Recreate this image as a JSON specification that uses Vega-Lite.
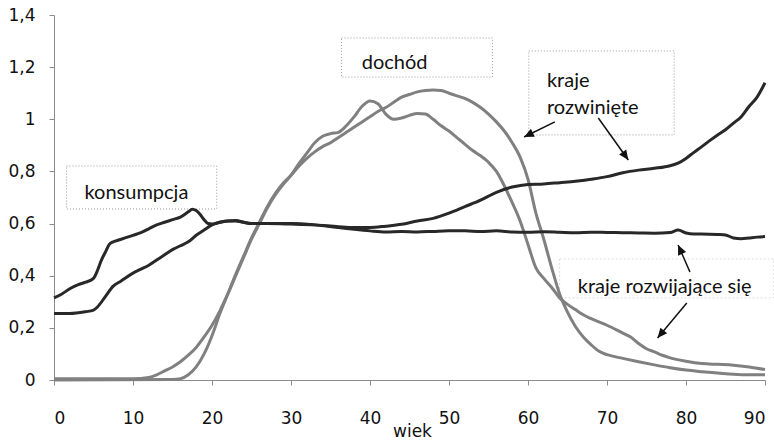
{
  "$schema": "https://vega.github.io/schema/vega-lite/v6.json",
  "autosize": "none",
  "width": 711,
  "height": 365,
  "padding": {"left": 54, "top": 15, "right": 9, "bottom": 62},
  "background": "white",
  "config": {
    "locale": {"number": {"decimal": ",", "thousands": " ", "grouping": [3], "currency": ["", " zł"]}},
    "view": {"stroke": null},
    "axis": {"grid": false, "domainColor": "#8c8c8c", "tickColor": "#8c8c8c", "labelFont": "DejaVu Sans", "labelFontSize": 17, "labelColor": "#111", "titleFont": "DejaVu Sans", "titleFontSize": 17, "titleFontWeight": "normal", "titleColor": "#111"}
  },
  "datasets": {
    "A": [
      {"age":0,"v":0.255},{"age":2,"v":0.255},{"age":4,"v":0.262},{"age":5,"v":0.268},{"age":5.5,"v":0.28},{"age":6.5,"v":0.32},{"age":7.5,"v":0.36},{"age":8.5,"v":0.38},{"age":10,"v":0.41},{"age":11,"v":0.425},{"age":12,"v":0.44},{"age":13,"v":0.46},{"age":14,"v":0.48},{"age":15,"v":0.5},{"age":16,"v":0.515},{"age":17,"v":0.53},{"age":18,"v":0.555},{"age":19,"v":0.575},{"age":20,"v":0.595},{"age":21,"v":0.605},{"age":22,"v":0.61},{"age":23,"v":0.61},{"age":24,"v":0.605},{"age":25,"v":0.6},{"age":27,"v":0.6},{"age":30,"v":0.598},{"age":33,"v":0.595},{"age":36,"v":0.588},{"age":38,"v":0.585},{"age":40,"v":0.585},{"age":42,"v":0.59},{"age":44,"v":0.597},{"age":46,"v":0.61},{"age":48,"v":0.62},{"age":50,"v":0.64},{"age":52,"v":0.665},{"age":54,"v":0.69},{"age":56,"v":0.72},{"age":58,"v":0.74},{"age":60,"v":0.75},{"age":62,"v":0.752},{"age":64,"v":0.757},{"age":66,"v":0.762},{"age":68,"v":0.77},{"age":70,"v":0.78},{"age":72,"v":0.795},{"age":74,"v":0.805},{"age":76,"v":0.812},{"age":78,"v":0.822},{"age":79,"v":0.832},{"age":80,"v":0.85},{"age":81,"v":0.873},{"age":82,"v":0.895},{"age":83,"v":0.918},{"age":84,"v":0.94},{"age":85,"v":0.96},{"age":86,"v":0.985},{"age":87,"v":1.01},{"age":88,"v":1.05},{"age":89,"v":1.085},{"age":90,"v":1.14}
    ],
    "B": [
      {"age":0,"v":0.315},{"age":1,"v":0.33},{"age":2,"v":0.35},{"age":3,"v":0.365},{"age":4,"v":0.375},{"age":5,"v":0.39},{"age":5.5,"v":0.42},{"age":6,"v":0.46},{"age":6.5,"v":0.49},{"age":7,"v":0.52},{"age":7.5,"v":0.53},{"age":8,"v":0.535},{"age":9,"v":0.545},{"age":10,"v":0.555},{"age":11,"v":0.565},{"age":12,"v":0.58},{"age":13,"v":0.595},{"age":14,"v":0.605},{"age":15,"v":0.615},{"age":16,"v":0.625},{"age":17,"v":0.645},{"age":17.5,"v":0.655},{"age":18,"v":0.65},{"age":18.5,"v":0.635},{"age":19,"v":0.615},{"age":19.5,"v":0.6},{"age":20,"v":0.598},{"age":21,"v":0.605},{"age":22,"v":0.61},{"age":23,"v":0.612},{"age":24,"v":0.605},{"age":25,"v":0.6},{"age":27,"v":0.6},{"age":30,"v":0.6},{"age":33,"v":0.595},{"age":36,"v":0.585},{"age":38,"v":0.578},{"age":40,"v":0.572},{"age":42,"v":0.568},{"age":44,"v":0.57},{"age":46,"v":0.568},{"age":48,"v":0.57},{"age":50,"v":0.572},{"age":52,"v":0.572},{"age":54,"v":0.57},{"age":56,"v":0.572},{"age":58,"v":0.568},{"age":60,"v":0.567},{"age":62,"v":0.569},{"age":64,"v":0.567},{"age":66,"v":0.565},{"age":68,"v":0.567},{"age":70,"v":0.566},{"age":72,"v":0.565},{"age":74,"v":0.564},{"age":76,"v":0.563},{"age":78,"v":0.566},{"age":79,"v":0.575},{"age":80,"v":0.564},{"age":81,"v":0.56},{"age":82,"v":0.56},{"age":84,"v":0.558},{"age":85,"v":0.556},{"age":86,"v":0.545},{"age":87,"v":0.542},{"age":88,"v":0.545},{"age":89,"v":0.548},{"age":90,"v":0.55}
    ],
    "C": [
      {"age":0,"v":0.005},{"age":10,"v":0.005},{"age":12,"v":0.01},{"age":13,"v":0.02},{"age":14,"v":0.035},{"age":15,"v":0.05},{"age":16,"v":0.07},{"age":17,"v":0.095},{"age":18,"v":0.125},{"age":19,"v":0.165},{"age":20,"v":0.21},{"age":21,"v":0.265},{"age":22,"v":0.33},{"age":23,"v":0.4},{"age":24,"v":0.47},{"age":25,"v":0.54},{"age":26,"v":0.6},{"age":27,"v":0.66},{"age":28,"v":0.71},{"age":29,"v":0.75},{"age":30,"v":0.785},{"age":31,"v":0.83},{"age":32,"v":0.87},{"age":33,"v":0.91},{"age":34,"v":0.935},{"age":35,"v":0.945},{"age":36,"v":0.95},{"age":37,"v":0.975},{"age":38,"v":1.01},{"age":39,"v":1.05},{"age":40,"v":1.07},{"age":41,"v":1.06},{"age":42,"v":1.02},{"age":43,"v":1.0},{"age":44,"v":1.005},{"age":45,"v":1.015},{"age":46,"v":1.022},{"age":47,"v":1.02},{"age":48,"v":1.0},{"age":49,"v":0.975},{"age":50,"v":0.955},{"age":51,"v":0.93},{"age":52,"v":0.905},{"age":53,"v":0.88},{"age":54,"v":0.86},{"age":55,"v":0.835},{"age":56,"v":0.8},{"age":57,"v":0.745},{"age":58,"v":0.68},{"age":58.6,"v":0.64},{"age":59,"v":0.61},{"age":60,"v":0.52},{"age":61,"v":0.43},{"age":62,"v":0.39},{"age":63,"v":0.355},{"age":64,"v":0.315},{"age":65,"v":0.29},{"age":66,"v":0.27},{"age":67,"v":0.25},{"age":68,"v":0.235},{"age":70,"v":0.21},{"age":72,"v":0.18},{"age":73,"v":0.165},{"age":74,"v":0.14},{"age":75,"v":0.12},{"age":76,"v":0.108},{"age":77,"v":0.095},{"age":78,"v":0.085},{"age":80,"v":0.072},{"age":82,"v":0.063},{"age":84,"v":0.06},{"age":86,"v":0.057},{"age":88,"v":0.05},{"age":90,"v":0.04}
    ],
    "D": [
      {"age":0,"v":0.0},{"age":15,"v":0.002},{"age":16,"v":0.005},{"age":17,"v":0.02},{"age":18,"v":0.05},{"age":19,"v":0.1},{"age":20,"v":0.17},{"age":21,"v":0.255},{"age":22,"v":0.33},{"age":23,"v":0.405},{"age":24,"v":0.475},{"age":25,"v":0.545},{"age":26,"v":0.605},{"age":27,"v":0.665},{"age":28,"v":0.715},{"age":29,"v":0.755},{"age":30,"v":0.785},{"age":31,"v":0.82},{"age":32,"v":0.85},{"age":33,"v":0.875},{"age":34,"v":0.895},{"age":35,"v":0.91},{"age":36,"v":0.93},{"age":37,"v":0.95},{"age":38,"v":0.97},{"age":39,"v":0.99},{"age":40,"v":1.01},{"age":41,"v":1.03},{"age":42,"v":1.045},{"age":43,"v":1.065},{"age":44,"v":1.085},{"age":45,"v":1.095},{"age":46,"v":1.105},{"age":47,"v":1.11},{"age":48,"v":1.112},{"age":49,"v":1.11},{"age":50,"v":1.1},{"age":51,"v":1.09},{"age":52,"v":1.08},{"age":53,"v":1.065},{"age":54,"v":1.045},{"age":55,"v":1.02},{"age":56,"v":0.99},{"age":57,"v":0.955},{"age":58,"v":0.91},{"age":59,"v":0.855},{"age":60,"v":0.77},{"age":61,"v":0.64},{"age":62,"v":0.54},{"age":63,"v":0.43},{"age":64,"v":0.33},{"age":65,"v":0.26},{"age":66,"v":0.205},{"age":67,"v":0.165},{"age":68,"v":0.135},{"age":69,"v":0.11},{"age":70,"v":0.097},{"age":72,"v":0.083},{"age":74,"v":0.07},{"age":76,"v":0.058},{"age":78,"v":0.047},{"age":80,"v":0.038},{"age":82,"v":0.032},{"age":84,"v":0.027},{"age":86,"v":0.022},{"age":88,"v":0.02},{"age":90,"v":0.02}
    ],
    "boxes": [
      {"name":"konsumpcja","x":1.58,"x2":20.6,"y":0.821,"y2":0.656},
      {"name":"dochód","x":36.4,"x2":55.5,"y":1.312,"y2":1.162},
      {"name":"kraje rozwinięte","x":60.1,"x2":78.5,"y":1.262,"y2":0.94},
      {"name":"kraje rozwijające się","x":64.0,"x2":91.1,"y":0.464,"y2":0.315}
    ],
    "labels": [
      {"text":"konsumpcja","x":3.86,"y":0.693},
      {"text":"dochód","x":38.95,"y":1.193},
      {"text":"kraje","x":62.4,"y":1.125},
      {"text":"rozwinięte","x":62.4,"y":1.02},
      {"text":"kraje rozwijające się","x":66.3,"y":0.333}
    ],
    "arrows": [
      {"id":1,"x":63.4,"y":0.99,"x2":59.5,"y2":0.932},
      {"id":2,"x":68.9,"y":1.005,"x2":72.7,"y2":0.844},
      {"id":3,"x":80.5,"y":0.414,"x2":79.0,"y2":0.518},
      {"id":4,"x":80.1,"y":0.295,"x2":76.4,"y2":0.161}
    ]
  },
  "layer": [
    {
      "data": {"name": "boxes"},
      "transform": [{"filter": "datum.name !== 'kraje rozwijające się'"}],
      "mark": {"type": "rect", "fill": null, "stroke": "#9a9a9a", "strokeWidth": 1, "strokeDash": [1, 2]},
      "encoding": {
        "x": {"field": "x", "type": "quantitative", "scale": {"domain": [0, 90], "nice": false, "zero": false}, "axis": {"values": [0,10,20,30,40,50,60,70,80,90], "title": "wiek", "tickSize": 5, "labelPadding": 25, "titleX": 358, "titleY": 56, "titleBaseline": "alphabetic", "titleAnchor": null, "titleAlign": "center"}},
        "x2": {"field": "x2"},
        "y": {"field": "y", "type": "quantitative", "scale": {"domain": [0, 1.4], "nice": false, "zero": false}, "axis": {"values": [0,0.2,0.4,0.6,0.8,1,1.2,1.4], "format": "~g", "title": null, "tickSize": 5, "labelPadding": 14}},
        "y2": {"field": "y2"}
      }
    },
    {
      "data": {"name": "boxes"},
      "transform": [{"filter": "datum.name === 'kraje rozwijające się'"}],
      "mark": {"type": "rect", "fill": null, "stroke": "#dddddd", "strokeWidth": 1, "strokeDash": [2, 2]},
      "encoding": {
        "x": {"field": "x", "type": "quantitative"},
        "x2": {"field": "x2"},
        "y": {"field": "y", "type": "quantitative"},
        "y2": {"field": "y2"}
      }
    },
    {
      "data": {"name": "C"},
      "mark": {"type": "line", "stroke": "#808080", "strokeWidth": 3, "interpolate": "monotone"},
      "encoding": {"x": {"field": "age", "type": "quantitative"}, "y": {"field": "v", "type": "quantitative"}}
    },
    {
      "data": {"name": "D"},
      "mark": {"type": "line", "stroke": "#808080", "strokeWidth": 3, "interpolate": "monotone"},
      "encoding": {"x": {"field": "age", "type": "quantitative"}, "y": {"field": "v", "type": "quantitative"}}
    },
    {
      "data": {"name": "A"},
      "mark": {"type": "line", "stroke": "#282828", "strokeWidth": 3, "interpolate": "monotone"},
      "encoding": {"x": {"field": "age", "type": "quantitative"}, "y": {"field": "v", "type": "quantitative"}}
    },
    {
      "data": {"name": "B"},
      "mark": {"type": "line", "stroke": "#282828", "strokeWidth": 3, "interpolate": "monotone"},
      "encoding": {"x": {"field": "age", "type": "quantitative"}, "y": {"field": "v", "type": "quantitative"}}
    },
    {
      "data": {"name": "labels"},
      "mark": {"type": "text", "font": "Lato", "fontSize": 20, "align": "left", "baseline": "alphabetic", "color": "#111"},
      "encoding": {"x": {"field": "x", "type": "quantitative"}, "y": {"field": "y", "type": "quantitative"}, "text": {"field": "text"}}
    },
    {
      "data": {"name": "arrows"},
      "mark": {"type": "rule", "color": "#111", "strokeWidth": 1.5},
      "encoding": {"x": {"field": "x", "type": "quantitative"}, "y": {"field": "y", "type": "quantitative"}, "x2": {"field": "x2"}, "y2": {"field": "y2"}}
    },
    {
      "data": {"name": "arrows"},
      "transform": [{"filter": "datum.id === 1"}],
      "mark": {"type": "point", "shape": "M0,0L-0.45,1L0.45,1Z", "filled": true, "color": "#111", "opacity": 1, "size": 380, "angle": 244},
      "encoding": {"x": {"field": "x2", "type": "quantitative"}, "y": {"field": "y2", "type": "quantitative"}}
    },
    {
      "data": {"name": "arrows"},
      "transform": [{"filter": "datum.id === 2"}],
      "mark": {"type": "point", "shape": "M0,0L-0.45,1L0.45,1Z", "filled": true, "color": "#111", "opacity": 1, "size": 380, "angle": 144.5},
      "encoding": {"x": {"field": "x2", "type": "quantitative"}, "y": {"field": "y2", "type": "quantitative"}}
    },
    {
      "data": {"name": "arrows"},
      "transform": [{"filter": "datum.id === 3"}],
      "mark": {"type": "point", "shape": "M0,0L-0.45,1L0.45,1Z", "filled": true, "color": "#111", "opacity": 1, "size": 380, "angle": 336},
      "encoding": {"x": {"field": "x2", "type": "quantitative"}, "y": {"field": "y2", "type": "quantitative"}}
    },
    {
      "data": {"name": "arrows"},
      "transform": [{"filter": "datum.id === 4"}],
      "mark": {"type": "point", "shape": "M0,0L-0.45,1L0.45,1Z", "filled": true, "color": "#111", "opacity": 1, "size": 380, "angle": 219.6},
      "encoding": {"x": {"field": "x2", "type": "quantitative"}, "y": {"field": "y2", "type": "quantitative"}}
    }
  ]
}
